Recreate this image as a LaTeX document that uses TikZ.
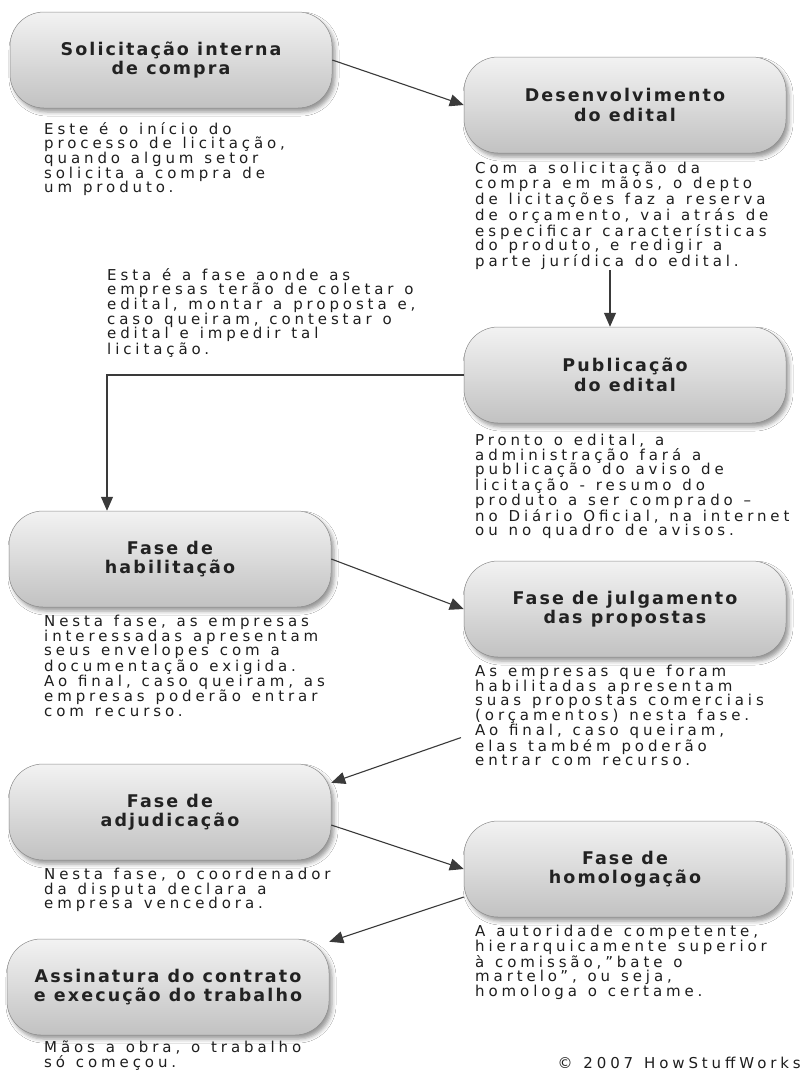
\documentclass[tikz,border=0pt]{standalone}
\usepackage{fontspec}
\setmainfont{DejaVu Sans}
\newfontfamily\titlefont[LetterSpace=12]{DejaVu Sans}
\newfontfamily\bodyfont[LetterSpace=26,WordSpace=1.25]{DejaVu Sans}
\usetikzlibrary{arrows.meta,shadows.blur}
\definecolor{ink}{HTML}{1E1E1E}
\definecolor{titleink}{HTML}{222222}
\definecolor{wire}{HTML}{3A3A3A}
\definecolor{edge}{HTML}{8C8C8C}
\tikzset{
  flow/.style={
    -{Triangle[length=14pt,width=12pt]},
    draw=wire,
    line width=1.1pt
  },
  stage/.style={
    rounded corners=34pt,
    minimum width=322pt,
    minimum height=96pt,
    top color=gray!10,
    middle color=gray!22,
    bottom color=gray!48,
    draw=edge,
    line width=0.5pt,
    blur shadow={shadow xshift=3pt,shadow yshift=-4pt,shadow blur radius=4pt},
    align=center,
    text=titleink,
    font=\titlefont\bfseries\fontsize{17.5}{19.5}\selectfont
  },
  desc/.style={
    anchor=north west,
    inner sep=0pt,
    align=left,
    text=ink,
    font=\bodyfont\fontsize{15}{14.6}\selectfont
  }
}

\begin{document}
\begin{tikzpicture}[x=1pt,y=-1pt]
  \fill[white] (0,0) rectangle (802,1074);
  \useasboundingbox (0,0) rectangle (802,1074);

  \node[stage] (stage-1) at (171,60) {Solicitação interna\\de compra};
  \node[desc] (desc-1) at (44,122) {Este é o início do\\processo de licitação,\\quando algum setor\\solicita a compra de\\um produto.};

  \node[stage] (stage-2) at (625,105) {Desenvolvimento\\do edital};
  \node[desc] (desc-2) at (475,162) {Com a solicitação da\\compra em mãos, o depto\\de licitações faz a reserva\\de orçamento, vai atrás de\\especificar características\\do produto, e redigir a\\parte jurídica do edital.};

  \node[desc] (desc-3) at (107,268) {Esta é a fase aonde as\\empresas terão de coletar o\\edital, montar a proposta e,\\caso queiram, contestar o\\edital e impedir tal\\licitação.};

  \node[stage] (stage-3) at (625,375) {Publicação\\do edital};
  \node[desc] (desc-4) at (475,434) {Pronto o edital, a\\administração fará a\\publicação do aviso de\\licitação - resumo do\\produto a ser comprado –\\no Diário Oficial, na internet\\ou no quadro de avisos.};

  \node[stage] (stage-4) at (170,559) {Fase de\\habilitação};
  \node[desc] (desc-5) at (44,615) {Nesta fase, as empresas\\interessadas apresentam\\seus envelopes com a\\documentação exigida.\\Ao final, caso queiram, as\\empresas poderão entrar\\com recurso.};

  \node[stage] (stage-5) at (625,609) {Fase de julgamento\\das propostas};
  \node[desc] (desc-6) at (475,665) {As empresas que foram\\habilitadas apresentam\\suas propostas comerciais\\(orçamentos) nesta fase.\\Ao final, caso queiram,\\elas também poderão\\entrar com recurso.};

  \node[stage] (stage-6) at (170,812) {Fase de\\adjudicação};
  \node[desc] (desc-7) at (44,868) {Nesta fase, o coordenador\\da disputa declara a\\empresa vencedora.};

  \node[stage] (stage-7) at (625,869) {Fase de\\homologação};
  \node[desc] (desc-8) at (475,925) {A autoridade competente,\\hierarquicamente superior\\à comissão,”bate o\\martelo”, ou seja,\\homologa o certame.};

  \node[stage] (stage-8) at (168,987) {Assinatura do contrato\\e execução do trabalho};
  \node[desc] (desc-9) at (44,1041) {Mãos a obra, o trabalho\\só começou.};

  \node[anchor=south east,inner sep=0pt,text=ink,
    font=\bodyfont\fontsize{15}{15}\selectfont] (credit) at (801,1069)
    {© 2007 HowStuffWorks};

  % connectors
  \coordinate (hab-in) at ([xshift=-63pt]stage-4.north);
  \draw[flow] (stage-1.east) -- (stage-2.west);
  \draw[flow] ([xshift=-15pt]stage-3.north |- desc-2.south) --
    ([xshift=-15pt]stage-3.north);
  \draw[flow] (stage-3.west) -| (hab-in);
  \draw[flow] (stage-4.east) -- (stage-5.west);
  \draw[flow] ([shift={(-14pt,-22pt)}]desc-6.west) --
    ([yshift=-19pt]stage-6.north east);
  \draw[flow] ([yshift=-13pt]stage-6.east) -- (stage-7.west);
  \draw[flow] ([yshift=-28pt]stage-7.west) --
    ([yshift=-3pt]stage-8.north east);
\end{tikzpicture}
\end{document}
